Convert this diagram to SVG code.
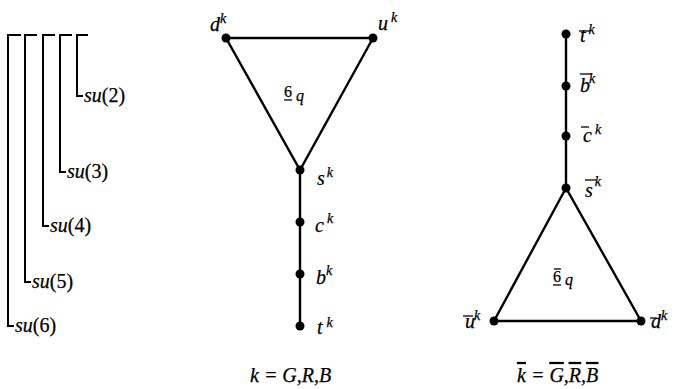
<svg xmlns="http://www.w3.org/2000/svg" width="674" height="389" viewBox="0 0 674 389">
<style>
.ln{stroke:#000;stroke-width:2.4;fill:none}
.br{stroke:#000;stroke-width:2;fill:none}
.bar{stroke:#000;stroke-width:1.3}
.dot{fill:#000}
.t{font-family:'Liberation Serif';font-size:20px;fill:#000;stroke:#000;stroke-width:0.25}
.it{font-style:italic}
.sup{font-size:14px;font-style:italic}
.sm{font-size:16px}
.ov{text-decoration:overline}
</style>
<rect width="674" height="389" fill="#fff"/>
<g id="brackets">
<g id="su6"><polyline class="br" points="21,35 8,35 8,326 14,326"/><text class="t" x="15" y="332"><tspan class="it">su</tspan>(6)</text></g>
<g id="su5"><polyline class="br" points="37,35 25,35 25,282 31,282"/><text class="t" x="32" y="288"><tspan class="it">su</tspan>(5)</text></g>
<g id="su4"><polyline class="br" points="55,35 43,35 43,226 49,226"/><text class="t" x="50" y="232"><tspan class="it">su</tspan>(4)</text></g>
<g id="su3"><polyline class="br" points="72,35 60,35 60,172 66,172"/><text class="t" x="67" y="178"><tspan class="it">su</tspan>(3)</text></g>
<g id="su2"><polyline class="br" points="88,35 77,35 77,96 83,96"/><text class="t" x="84" y="102"><tspan class="it">su</tspan>(2)</text></g>
</g>
<g id="connectors">
<polygon class="ln" points="226,38 373,38 300,170"/>
<line class="ln" x1="300" y1="170" x2="300" y2="326"/>
<polygon class="ln" points="566,188 494,321 641,321"/>
<line class="ln" x1="566" y1="34" x2="566" y2="188"/>
</g>
<g id="dk"><circle class="dot" cx="226" cy="38" r="4.5"/><text class="t it" x="210" y="31">d<tspan class="sup" dy="-8">k</tspan></text></g>
<g id="uk"><circle class="dot" cx="373" cy="38" r="4.5"/><text class="t it" x="378" y="30">u<tspan class="sup" dx="3" dy="-8">k</tspan></text></g>
<g id="six"><text class="t sm" x="284" y="97">6<tspan class="it" font-size="16" dy="4" dx="4">q</tspan></text><line class="bar" x1="284" y1="100" x2="292" y2="100"/></g>
<g id="sk"><circle class="dot" cx="300" cy="170" r="4.5"/><text class="t it" x="317" y="185">s<tspan class="sup" dx="2" dy="-8">k</tspan></text></g>
<g id="ck"><circle class="dot" cx="300" cy="222" r="4.5"/><text class="t it" x="315" y="232">c<tspan class="sup" dx="3" dy="-9">k</tspan></text></g>
<g id="bk"><circle class="dot" cx="300" cy="274" r="4.5"/><text class="t it" x="316" y="284">b<tspan class="sup" dy="-9">k</tspan></text></g>
<g id="tk"><circle class="dot" cx="300" cy="326" r="4.5"/><text class="t it" x="317" y="334">t<tspan class="sup" dx="4" dy="-7">k</tspan></text></g>
<g id="label1"><text class="t it" x="250" y="382" font-size="22">k = G,R,B</text></g>
<g id="tbk"><circle class="dot" cx="566" cy="34" r="4.5"/><text class="t it" x="580" y="42">t<tspan class="sup" dx="3" dy="-8">k</tspan></text><line class="bar" x1="579" y1="31" x2="590" y2="31"/></g>
<g id="bbk"><circle class="dot" cx="566" cy="86" r="4.5"/><text class="t it" x="580" y="92">b<tspan class="sup" dx="-1" dy="-9">k</tspan></text><line class="bar" x1="580" y1="74" x2="591" y2="74"/></g>
<g id="cbk"><circle class="dot" cx="566" cy="136" r="4.5"/><text class="t it" x="583" y="142">c<tspan class="sup" dx="3" dy="-8">k</tspan></text><line class="bar" x1="581" y1="127" x2="589" y2="127"/></g>
<g id="sbk"><circle class="dot" cx="566" cy="188" r="4.5"/><text class="t it" x="585" y="197">s<tspan class="sup" dx="2" dy="-11">k</tspan></text><line class="bar" x1="585" y1="180" x2="596" y2="180"/></g>
<g id="sixb"><text class="t sm" x="553" y="282">6<tspan class="it" font-size="16" dy="3" dx="4">q</tspan></text><line class="bar" x1="553" y1="285" x2="561" y2="285"/><line class="bar" x1="554" y1="269" x2="561" y2="269"/></g>
<g id="ubk"><circle class="dot" cx="494" cy="321" r="4.5"/><text class="t it" x="465" y="328">u<tspan class="sup" dx="-1" dy="-8">k</tspan></text><line class="bar" x1="463" y1="316" x2="473" y2="316"/></g>
<g id="dbk"><circle class="dot" cx="641" cy="321" r="4.5"/><text class="t it" x="651" y="328">d<tspan class="sup" dx="0" dy="-8">k</tspan></text><line class="bar" x1="650" y1="318" x2="657" y2="318"/></g>
<g id="label2"><text class="t it" x="517" y="382" font-size="22"><tspan class="ov">k</tspan> = <tspan class="ov">G</tspan>,<tspan class="ov">R</tspan>,<tspan class="ov">B</tspan></text></g>
</svg>
